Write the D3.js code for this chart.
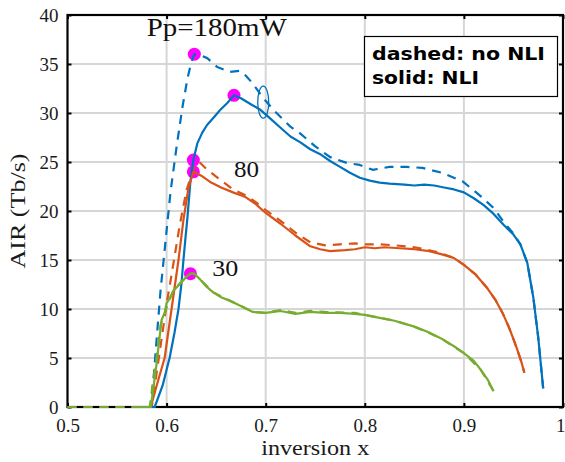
<!DOCTYPE html>
<html>
<head>
<meta charset="utf-8">
<script src="https://cdn.jsdelivr.net/npm/d3@7"></script>
<style>
  html, body { margin: 0; padding: 0; background: #fff; }
  svg { display: block; }
</style>
</head>
<body>
<svg id="chart" width="565" height="462"></svg>
<script>
// Axis ticks
const xTicks = [0.5, 0.6, 0.7, 0.8, 0.9, 1.0];
const xTickLabels = ["0.5", "0.6", "0.7", "0.8", "0.9", "1"];
const yTicks = [0, 5, 10, 15, 20, 25, 30, 35, 40];

// Pump power 180 mW, with NLI (solid) — [inversion x, AIR Tb/s]
const p180Solid = [[0.57,0],[0.588,0],[0.596,2.2],[0.603,5],[0.608,7.6],[0.612,10],[0.615,12.6],[0.617,15],[0.619,17.2],[0.621,19.3],[0.624,23],[0.627,25.2],[0.631,26.9],[0.636,28.0],[0.641,28.8],[0.648,29.6],[0.654,30.3],[0.661,31.0],[0.668,31.8],[0.675,31.5],[0.685,30.9],[0.695,30.3],[0.705,29.4],[0.715,28.5],[0.725,27.6],[0.735,27.0],[0.745,26.3],[0.755,25.8],[0.765,25.1],[0.775,24.5],[0.785,23.9],[0.795,23.4],[0.805,23.1],[0.815,22.9],[0.825,22.8],[0.84,22.7],[0.85,22.6],[0.86,22.7],[0.87,22.6],[0.88,22.4],[0.89,22.2],[0.9,21.9],[0.91,21.3],[0.92,20.6],[0.93,19.7],[0.94,18.6],[0.95,17.6],[0.957,16.6],[0.964,14.7],[0.97,11.2],[0.975,7.1],[0.98,1.9]];

// Pump power 180 mW, no NLI (dashed)
const p180Dashed = [[0.5,0],[0.584,0],[0.587,3.1],[0.59,7],[0.594,12],[0.599,17],[0.604,22],[0.61,26.5],[0.616,30.6],[0.621,33.5],[0.625,35.2],[0.628,36],[0.634,35.9],[0.641,35.6],[0.651,34.7],[0.664,34.2],[0.674,34.3],[0.68,33.8],[0.687,33],[0.697,31.6],[0.708,30.3],[0.715,29.6],[0.725,28.6],[0.735,27.9],[0.75,26.6],[0.765,25.5],[0.782,24.9],[0.795,24.7],[0.808,24.2],[0.825,24.5],[0.842,24.5],[0.858,24.4],[0.878,23.9],[0.899,23.0],[0.916,21.6],[0.93,20.3],[0.94,18.9],[0.95,17.7],[0.957,16.6],[0.964,14.7],[0.97,11.2],[0.975,7.1],[0.98,1.9]];

// Pump power 80 mW, with NLI (solid)
const p80Solid = [[0.57,0],[0.584,0],[0.59,2.2],[0.598,5],[0.605,10],[0.612,15],[0.617,19.1],[0.622,22.3],[0.627,24.0],[0.635,23.6],[0.645,22.9],[0.655,22.4],[0.667,21.9],[0.675,21.6],[0.68,21.4],[0.69,20.7],[0.7,19.8],[0.715,18.7],[0.73,17.5],[0.745,16.4],[0.755,16.1],[0.765,15.9],[0.78,16.0],[0.79,16.1],[0.8,16.3],[0.81,16.2],[0.82,16.3],[0.835,16.2],[0.85,16.1],[0.865,15.9],[0.877,15.6],[0.89,15.2],[0.9,14.5],[0.912,13.5],[0.923,12.2],[0.932,10.9],[0.939,9.6],[0.946,8.0],[0.953,6.1],[0.958,4.6],[0.961,3.5]];

// Pump power 80 mW, no NLI (dashed)
const p80Dashed = [[0.5,0],[0.585,0],[0.59,3.5],[0.595,7],[0.6,10.5],[0.605,13.5],[0.613,18.4],[0.62,22.1],[0.628,24.6],[0.633,25.0],[0.64,24.3],[0.65,23.5],[0.667,22.2],[0.68,21.6],[0.69,20.9],[0.7,20.1],[0.715,19.0],[0.73,17.8],[0.745,16.8],[0.76,16.5],[0.775,16.6],[0.79,16.7],[0.8,16.6],[0.815,16.6],[0.83,16.5],[0.85,16.3],[0.865,16.0],[0.877,15.7],[0.89,15.2],[0.9,14.5],[0.912,13.5],[0.923,12.2],[0.932,10.9],[0.939,9.6],[0.946,8.0],[0.953,6.1],[0.958,4.6],[0.961,3.5]];

// Pump power 30 mW, with NLI (solid)
const p30Solid = [[0.57,0],[0.584,0],[0.586,1.4],[0.59,4.5],[0.593,7.2],[0.595,8.9],[0.598,9.6],[0.6,10.6],[0.604,11.2],[0.607,11.9],[0.614,12.6],[0.62,13.3],[0.624,13.6],[0.628,13.6],[0.634,13.0],[0.64,12.3],[0.647,11.7],[0.655,11.2],[0.667,10.7],[0.677,10.2],[0.687,9.7],[0.7,9.6],[0.715,9.8],[0.73,9.5],[0.745,9.7],[0.76,9.6],[0.775,9.6],[0.79,9.5],[0.8,9.4],[0.815,9.1],[0.83,8.8],[0.85,8.2],[0.865,7.6],[0.877,7.0],[0.89,6.2],[0.9,5.5],[0.91,4.7],[0.917,3.8],[0.924,2.8],[0.93,1.6]];

// Pump power 30 mW, no NLI (dashed)
const p30Dashed = [[0.5,0],[0.583,0],[0.586,2.4],[0.59,5.2],[0.594,8.4],[0.598,9.5],[0.602,10.8],[0.607,11.9],[0.614,12.7],[0.62,13.4],[0.624,13.6],[0.628,13.6],[0.634,13.0],[0.647,11.7],[0.667,10.7],[0.687,9.7],[0.7,9.6],[0.715,9.9],[0.73,9.6],[0.745,9.8],[0.76,9.7],[0.79,9.6],[0.8,9.4],[0.83,8.8],[0.85,8.2],[0.877,7.0],[0.9,5.5],[0.917,3.8],[0.93,1.6]];

// Optimum points marked on the curves
const optimumX = [0.628, 0.668, 0.627, 0.627, 0.624];
const optimumY = [36.0, 31.8, 25.2, 24.0, 13.6];

// Curve annotations
const powerLabels = ["Pp=180mW", "80", "30"];
const powerLabelX = [0.58, 0.668, 0.646];
const powerLabelY = [37.9, 23.5, 13.4];

// Highlighted region on the 180 mW curves
const ringX = 0.6975;
const ringY = 31.1;

const legendLines = ["dashed: no NLI", "solid: NLI"];

const colors = { blue: "#0072BD", orange: "#D95319", green: "#77AC30" };

const svg = d3.select("#chart");
const L = 67.5, R = 563, T = 15, B = 407;

const x = d3.scaleLinear().domain([0.5, 1.0]).range([L, R]);
const y = d3.scaleLinear().domain([0, 40]).range([B, T]);

// Grid
const grid = svg.append("g");
grid.selectAll("line.gx").data(xTicks.slice(1, -1)).join("line")
  .attr("x1", d => x(d)).attr("x2", d => x(d))
  .attr("y1", T).attr("y2", B)
  .attr("stroke", "#d6d6d6").attr("stroke-width", 2);
grid.selectAll("line.gy").data(yTicks.slice(1, -1)).join("line")
  .attr("x1", L).attr("x2", R)
  .attr("y1", d => y(d)).attr("y2", d => y(d))
  .attr("stroke", "#d6d6d6").attr("stroke-width", 2);

// Axes
const serif = "'Liberation Serif', 'DejaVu Serif', serif";

const xAxis = d3.axisBottom(x).tickValues(xTicks)
  .tickFormat((d, i) => xTickLabels[i])
  .tickSizeInner(-4).tickSizeOuter(0).tickPadding(12);
const gx = svg.append("g").attr("transform", `translate(0,${B})`).call(xAxis);

const yAxis = d3.axisLeft(y).tickValues(yTicks)
  .tickSizeInner(-4).tickSizeOuter(0).tickPadding(9);
const gy = svg.append("g").attr("transform", `translate(${L},0)`).call(yAxis);

const xTop = d3.axisTop(x).tickValues(xTicks).tickFormat("")
  .tickSizeInner(-4).tickSizeOuter(0);
const gxt = svg.append("g").attr("transform", `translate(0,${T})`).call(xTop);

const yRight = d3.axisRight(y).tickValues(yTicks).tickFormat("")
  .tickSizeInner(-4).tickSizeOuter(0);
const gyr = svg.append("g").attr("transform", `translate(${R},0)`).call(yRight);

[gx, gy, gxt, gyr].forEach(g => {
  g.select(".domain").remove();
  g.selectAll(".tick line").attr("stroke", "#000").attr("stroke-width", 2);
  g.selectAll(".tick text")
    .attr("font-family", serif).attr("font-size", 19).attr("fill", "#1a1a1a");
});
// the last x label sits at the right edge of the figure
gx.selectAll(".tick text").filter(d => d === 1.0)
  .attr("text-anchor", "end").attr("x", 2);

// Frame
svg.append("rect")
  .attr("x", L).attr("y", T).attr("width", R - L).attr("height", B - T)
  .attr("fill", "none").attr("stroke", "#000").attr("stroke-width", 2.2);

// Optimum markers (beneath the curves)
svg.append("g").selectAll("circle").data(optimumX).join("circle")
  .attr("cx", (d) => x(d))
  .attr("cy", (d, i) => y(optimumY[i]))
  .attr("r", 6.5)
  .attr("fill", "#ff00ff");

const line = d3.line().x(d => x(d[0])).y(d => y(d[1]));

const series = [
  { data: p180Dashed, color: colors.blue, dashed: true },
  { data: p80Dashed, color: colors.orange, dashed: true },
  { data: p180Solid, color: colors.blue, dashed: false },
  { data: p80Solid, color: colors.orange, dashed: false },
  { data: p30Solid, color: colors.green, dashed: false },
  { data: p30Dashed, color: colors.green, dashed: true }
];

svg.append("g").selectAll("path").data(series).join("path")
  .attr("d", d => line(d.data))
  .attr("fill", "none")
  .attr("stroke", d => d.color)
  .attr("stroke-width", 2.2)
  .attr("stroke-linejoin", "round")
  .attr("stroke-dasharray", d => d.dashed ? "9,7" : null);

// Ring around the 180 mW curves
svg.append("ellipse")
  .attr("cx", x(ringX)).attr("cy", y(ringY))
  .attr("rx", 5.5).attr("ry", 16)
  .attr("fill", "none").attr("stroke", colors.blue).attr("stroke-width", 1.3);

// Axis titles
svg.append("text")
  .attr("x", (L + R) / 2).attr("y", 455)
  .attr("text-anchor", "middle")
  .attr("font-family", serif).attr("font-size", 21)
  .attr("textLength", 108).attr("lengthAdjust", "spacingAndGlyphs")
  .attr("fill", "#1a1a1a")
  .text("inversion x");

svg.append("text")
  .attr("transform", "translate(25,211) rotate(-90)")
  .attr("text-anchor", "middle")
  .attr("font-family", serif).attr("font-size", 21)
  .attr("textLength", 115).attr("lengthAdjust", "spacingAndGlyphs")
  .attr("fill", "#1a1a1a")
  .text("AIR (Tb/s)");

// Power annotations
const labelWidths = [140, 25, 26];
const labelSizes = [25, 23, 23];
svg.append("g").selectAll("text").data(powerLabels).join("text")
  .attr("x", (d, i) => x(powerLabelX[i]))
  .attr("y", (d, i) => y(powerLabelY[i]))
  .attr("font-family", serif)
  .attr("font-size", (d, i) => labelSizes[i])
  .attr("textLength", (d, i) => labelWidths[i])
  .attr("lengthAdjust", "spacingAndGlyphs")
  .attr("fill", "#111")
  .text(d => d);

// Legend box
const lg = svg.append("g");
lg.append("rect")
  .attr("x", 364.5).attr("y", 36.5).attr("width", 193).attr("height", 60)
  .attr("fill", "#fff").attr("stroke", "#000").attr("stroke-width", 1.2);
const legendWidths = [173, 107];
lg.selectAll("text").data(legendLines).join("text")
  .attr("x", 372)
  .attr("y", (d, i) => 60 + i * 24)
  .attr("font-family", "'DejaVu Sans', sans-serif")
  .attr("font-weight", "bold")
  .attr("font-size", 18)
  .attr("textLength", (d, i) => legendWidths[i])
  .attr("lengthAdjust", "spacingAndGlyphs")
  .attr("fill", "#000")
  .text(d => d);
</script>
</body>
</html>
